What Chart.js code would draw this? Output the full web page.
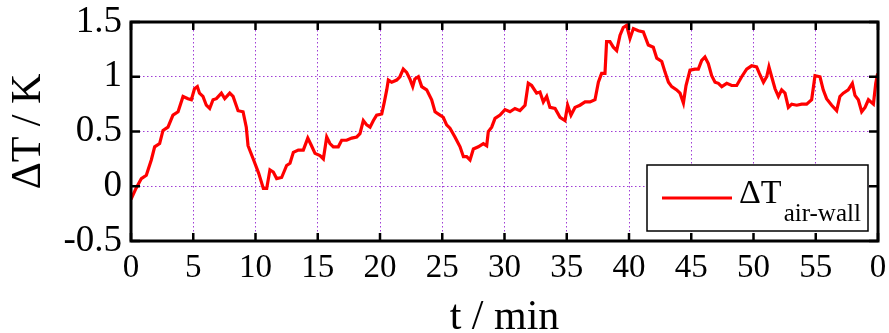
<!DOCTYPE html>
<html>
<head>
<meta charset="utf-8">
<script src="https://cdn.jsdelivr.net/npm/chart.js@4.4.1/dist/chart.umd.min.js"></script>
<style>
  html, body { margin: 0; padding: 0; background: #fff; }
</style>
</head>
<body>
<canvas id="chart" width="889" height="333"></canvas>
<script>
const timeMin = [0, 0.4, 0.83, 1.23, 1.63, 1.9, 2.3, 2.57, 2.97, 3.37, 3.78, 4.18, 4.58, 4.85, 5.1, 5.33, 5.5, 5.78, 6.05, 6.32,
  6.59, 6.86, 7.26, 7.53, 7.93, 8.2, 8.6, 9.0, 9.26, 9.4, 9.85, 10.25, 10.63, 10.9, 11.16, 11.43, 11.7, 12.1, 12.5, 12.77,
  13.04, 13.44, 13.84, 14.2, 14.5, 14.78, 15.18, 15.45, 15.72, 15.98, 16.25, 16.65, 16.92, 17.32, 17.73, 18.13, 18.39, 18.66, 18.93, 19.2,
  19.47, 19.73, 20.14, 20.35, 20.54, 20.67, 20.94, 21.34, 21.6, 21.87, 22.14, 22.4, 22.63, 22.8, 23.08, 23.35, 23.75, 24.15, 24.42, 24.82,
  25.08, 25.35, 25.62, 26.02, 26.43, 26.7, 26.96, 27.23, 27.5, 27.9, 28.3, 28.57, 28.7, 28.97, 29.24, 29.64, 30.04, 30.44, 30.84, 31.24,
  31.65, 31.91, 32.18, 32.58, 32.85, 33.12, 33.39, 33.65, 34.06, 34.46, 34.86, 35.07, 35.34, 35.66, 36.06, 36.47, 36.87, 37.27, 37.54, 37.8,
  38.07, 38.2, 38.47, 38.74, 39.01, 39.28, 39.54, 39.81, 40.08, 40.35, 40.75, 41.15, 41.55, 41.95, 42.23, 42.63, 42.9, 43.17, 43.43, 43.83,
  44.1, 44.37, 44.58, 44.9, 45.3, 45.57, 45.84, 46.1, 46.37, 46.64, 46.91, 47.18, 47.45, 47.85, 48.25, 48.65, 49.05, 49.45, 49.85, 50.25,
  50.47, 50.8, 51.06, 51.24, 51.46, 51.73, 52.0, 52.26, 52.53, 52.8, 53.07, 53.47, 53.87, 54.27, 54.67, 54.94, 55.34, 55.6, 55.87, 56.28,
  56.68, 56.94, 57.21, 57.61, 57.94, 58.15, 58.42, 58.69, 58.96, 59.23, 59.63, 59.82, 59.97];
const deltaT = [-0.12, -0.02, 0.07, 0.10, 0.24, 0.36, 0.39, 0.51, 0.54, 0.65, 0.68, 0.82, 0.80, 0.79, 0.89, 0.91, 0.85, 0.82, 0.74, 0.71,
  0.79, 0.80, 0.85, 0.80, 0.85, 0.82, 0.69, 0.68, 0.54, 0.37, 0.24, 0.12, -0.02, -0.02, 0.15, 0.13, 0.07, 0.08, 0.19, 0.21,
  0.31, 0.33, 0.33, 0.44, 0.37, 0.30, 0.28, 0.25, 0.45, 0.39, 0.36, 0.36, 0.42, 0.42, 0.44, 0.45, 0.48, 0.60, 0.56, 0.54,
  0.60, 0.65, 0.66, 0.77, 0.88, 0.97, 0.95, 0.97, 1.00, 1.07, 1.04, 0.98, 0.91, 0.98, 1.00, 0.91, 0.88, 0.79, 0.68, 0.65,
  0.63, 0.56, 0.53, 0.45, 0.36, 0.27, 0.27, 0.24, 0.34, 0.36, 0.39, 0.37, 0.50, 0.54, 0.62, 0.65, 0.70, 0.68, 0.71, 0.69,
  0.74, 0.94, 0.92, 0.85, 0.86, 0.77, 0.82, 0.72, 0.71, 0.63, 0.60, 0.74, 0.65, 0.72, 0.74, 0.77, 0.77, 0.79, 0.95, 1.03,
  1.03, 1.32, 1.32, 1.27, 1.24, 1.38, 1.45, 1.47, 1.35, 1.44, 1.42, 1.41, 1.29, 1.27, 1.17, 1.14, 1.04, 0.95, 0.91, 0.88,
  0.85, 0.76, 0.92, 1.06, 1.07, 1.07, 1.15, 1.18, 1.12, 1.01, 0.95, 0.94, 0.91, 0.94, 0.92, 0.92, 1.00, 1.07, 1.10, 1.09,
  1.03, 0.95, 1.00, 1.09, 1.00, 0.89, 0.82, 0.88, 0.85, 0.72, 0.75, 0.74, 0.75, 0.75, 0.79, 1.01, 1.00, 0.88, 0.80, 0.74,
  0.69, 0.82, 0.85, 0.88, 0.94, 0.83, 0.79, 0.68, 0.72, 0.79, 0.75, 0.94, 1.03];

const xTickValues = [0, 5, 10, 15, 20, 25, 30, 35, 40, 45, 50, 55, 60];
const xTickLabels = ['0', '5', '10', '15', '20', '25', '30', '35', '40', '45', '50', '55', '0'];
const yTickValues = [-0.5, 0, 0.5, 1, 1.5];
const yTickLabels = ['-0.5', '0', '0.5', '1', '1.5'];

const seriesLabel = 'ΔT';
const seriesSub = 'air-wall';

Chart.defaults.font.family = "'Liberation Serif', 'Times New Roman', serif";
Chart.defaults.color = '#000';

const gridColor = 'rgba(150, 40, 210, 0.9)';

// inward tick marks, black frame and the legend with subscript
const framePlugin = {
  id: 'frame',
  afterDraw(chart) {
    const { ctx, chartArea: a, scales: { x, y } } = chart;
    ctx.save();
    ctx.strokeStyle = '#000';
    ctx.lineWidth = 2.5;
    ctx.beginPath();
    xTickValues.forEach(v => {
      const px = x.getPixelForValue(v);
      ctx.moveTo(px, a.bottom); ctx.lineTo(px, a.bottom - 8);
      ctx.moveTo(px, a.top); ctx.lineTo(px, a.top + 8);
    });
    yTickValues.forEach(v => {
      const py = y.getPixelForValue(v);
      ctx.moveTo(a.left, py); ctx.lineTo(a.left + 9, py);
      ctx.moveTo(a.right, py); ctx.lineTo(a.right - 9, py);
    });
    ctx.stroke();
    ctx.lineWidth = 3;
    ctx.strokeRect(a.left, a.top, a.right - a.left, a.bottom - a.top);

    // legend box
    const bx = a.right - 231, by = a.bottom - 76, bw = 221, bh = 66;
    ctx.fillStyle = '#fff';
    ctx.fillRect(bx, by, bw, bh);
    ctx.lineWidth = 1.5;
    ctx.strokeRect(bx, by, bw, bh);
    const ds = chart.data.datasets[0];
    ctx.strokeStyle = ds.borderColor;
    ctx.lineWidth = 3;
    ctx.beginPath();
    ctx.moveTo(bx + 15, by + 33);
    ctx.lineTo(bx + 85, by + 33);
    ctx.stroke();
    ctx.fillStyle = '#000';
    ctx.textBaseline = 'alphabetic';
    ctx.textAlign = 'left';
    ctx.font = "34px 'Liberation Serif', serif";
    ctx.fillText(ds.label, bx + 92, by + 38);
    const w = ctx.measureText(ds.label).width;
    ctx.font = "25px 'Liberation Serif', serif";
    ctx.fillText(seriesSub, bx + 94 + w, by + 56);
    ctx.restore();
  }
};

new Chart(document.getElementById('chart'), {
  type: 'line',
  data: {
    datasets: [{
      label: seriesLabel,
      data: timeMin.map((t, i) => ({ x: t, y: deltaT[i] })),
      borderColor: '#ff0000',
      borderWidth: 3.2,
      pointRadius: 0,
      tension: 0,
      fill: false
    }]
  },
  options: {
    responsive: false,
    animation: false,
    layout: { padding: { top: 22, right: 11, left: 0, bottom: 0 } },
    plugins: { legend: { display: false }, tooltip: { enabled: false } },
    scales: {
      x: {
        type: 'linear',
        min: 0,
        max: 60,
        afterBuildTicks: s => { s.ticks = xTickValues.map(v => ({ value: v })); },
        afterFit: s => { s.height = 92; s.paddingLeft = 0; s.paddingRight = 0; },
        ticks: {
          callback: (v, i) => xTickLabels[i],
          font: { size: 33 },
          padding: 8,
          maxRotation: 0,
          autoSkip: false
        },
        grid: { color: gridColor, lineWidth: 1, drawTicks: false },
        border: { display: false, dash: [1.5, 2.5] },
        title: {
          display: true,
          text: 't / min',
          font: { size: 42, lineHeight: 0.7 },
          padding: 0
        }
      },
      y: {
        min: -0.5,
        max: 1.5,
        afterBuildTicks: s => { s.ticks = yTickValues.map(v => ({ value: v })); },
        afterFit: s => { s.width = 131; s.paddingTop = 0; s.paddingBottom = 0; },
        ticks: {
          callback: (v, i) => yTickLabels[i],
          font: { size: 37 },
          padding: 9,
          autoSkip: false
        },
        grid: { color: gridColor, lineWidth: 1, drawTicks: false },
        border: { display: false, dash: [1.5, 2.5] },
        title: {
          display: true,
          text: 'ΔT / K',
          font: { size: 42, lineHeight: 1.4 },
          padding: 0
        }
      }
    }
  },
  plugins: [framePlugin]
});
</script>
</body>
</html>
